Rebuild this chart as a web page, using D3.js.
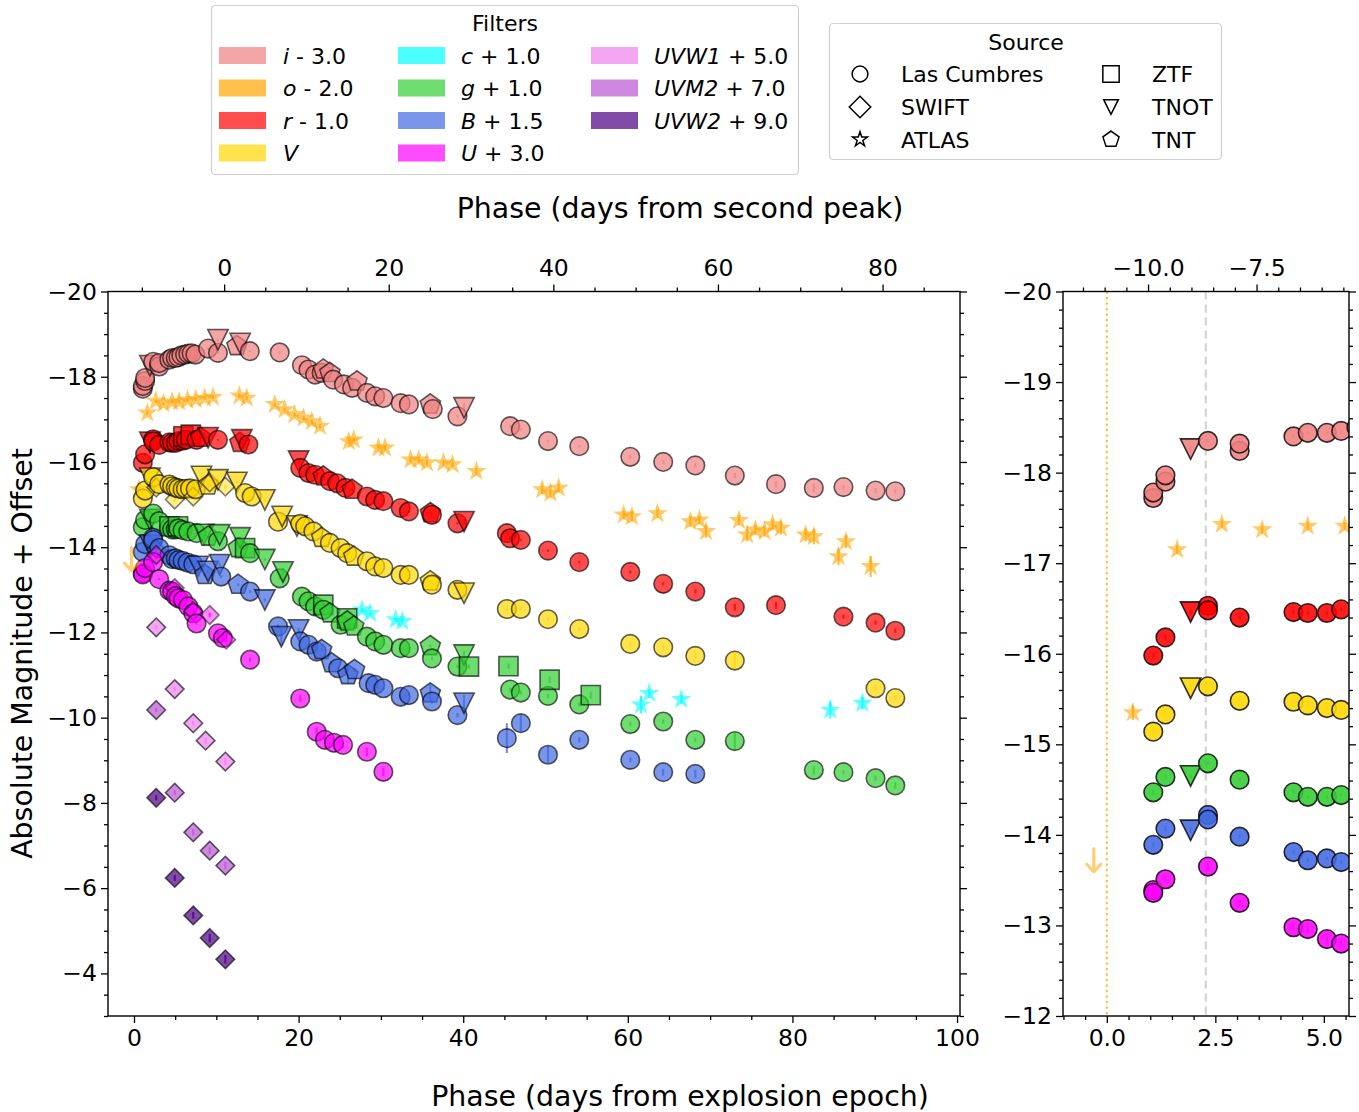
<!DOCTYPE html>
<html>
<head>
<meta charset="utf-8">
<script src="https://cdn.jsdelivr.net/npm/d3@7"></script>
<style>
  body { margin: 0; background: #fff; }
  svg { font-family: "DejaVu Sans", sans-serif; }
</style>
</head>
<body>
<svg id="chart" width="1359" height="1112"></svg>
<script>
// ---- filters, offsets, colours ----
const filterNames   = ["i", "o", "r", "V", "c", "g", "B", "U", "UVW1", "UVM2", "UVW2"];
const filterOffsets = [-3.0, -2.0, -1.0, 0, 1.0, 1.0, 1.5, 3.0, 5.0, 7.0, 9.0];
const filterColors  = ["lightcoral", "orange", "red", "gold", "cyan", "limegreen",
                       "royalblue", "magenta", "violet", "mediumorchid", "indigo"];

// ---- photometric sources ----
const sourceCodes = ["L", "S", "A", "Z", "T", "P"];
const sourceNames = ["Las Cumbres", "SWIFT", "ATLAS", "ZTF", "TNOT", "TNT"];

// phase of the second light-curve peak (days after explosion)
const secondPeakPhase = 10.95;
// epoch marked by the dashed line in the early-time panel
const firstPeakPhase = 2.28;

// ---- photometry: [phase (d from explosion), absolute mag, error, source] ----
const iRows = [
  [1.07,-14.72,.03,"L"],[1.07,-14.78,.03,"L"],[1.35,-14.90,.03,"L"],[1.35,-14.97,.03,"L"],
  [1.93,-15.26,.03,"T"],[2.33,-15.35,.02,"L"],[3.06,-15.24,.02,"L"],[3.06,-15.32,.02,"L"],
  [4.30,-15.40,.02,"L"],[4.63,-15.44,.02,"L"],[5.07,-15.44,.02,"L"],[5.40,-15.46,.02,"L"],
  [5.75,-15.50,.02,"L"],[6.20,-15.52,.02,"L"],[6.60,-15.54,.02,"L"],[7.00,-15.55,.02,"L"],
  [7.46,-15.52,.02,"L"],[9.00,-15.66,.02,"L"],[10.2,-15.56,.02,"L"],[10.2,-15.87,.03,"T"],
  [12.5,-15.72,.03,"P"],[12.9,-15.78,.03,"T"],[14.07,-15.60,.02,"L"],[17.7,-15.57,.03,"L"],
  [20.4,-15.27,.02,"L"],[21.2,-15.17,.02,"L"],[22.0,-15.05,.02,"L"],[22.8,-15.09,.02,"L"],
  [23.0,-15.17,.03,"P"],[23.8,-15.09,.03,"P"],[24.2,-14.93,.02,"L"],[25.5,-14.82,.02,"L"],
  [26.5,-14.74,.02,"L"],[27.1,-14.89,.03,"P"],[28.3,-14.62,.02,"L"],[29.3,-14.54,.02,"L"],
  [30.3,-14.50,.02,"L"],[32.4,-14.38,.02,"L"],[33.4,-14.35,.02,"L"],[36.0,-14.35,.03,"P"],
  [36.3,-14.24,.03,"L"],[39.3,-14.07,.03,"L"],[40.1,-14.27,.10,"T"],[45.7,-13.84,.03,"L"],
  [47.0,-13.76,.03,"L"],[50.3,-13.49,.03,"L"],[54.1,-13.37,.03,"L"],[60.3,-13.12,.04,"L"],
  [64.3,-13.00,.04,"L"],[68.2,-12.92,.05,"L"],[73.0,-12.68,.06,"L"],[78.0,-12.48,.08,"L"],
  [82.6,-12.39,.10,"L"],[86.2,-12.41,.05,"L"],[90.1,-12.33,.06,"L"],[92.5,-12.31,.05,"L"]
];
const oRows = [
  [0.60,-13.35,.08,"A"],[1.62,-15.15,.05,"A"],[2.65,-15.43,.04,"A"],[3.58,-15.37,.04,"A"],
  [4.63,-15.41,.04,"A"],[5.48,-15.41,.04,"A"],[6.5,-15.45,.04,"A"],[7.5,-15.47,.04,"A"],
  [8.6,-15.50,.04,"A"],[9.6,-15.52,.04,"A"],[12.8,-15.55,.05,"A"],[13.7,-15.50,.05,"A"],
  [17.1,-15.35,.05,"A"],[18.3,-15.23,.05,"A"],[19.5,-15.11,.05,"A"],[20.6,-15.03,.05,"A"],
  [21.6,-14.95,.05,"A"],[22.6,-14.84,.05,"A"],[26.1,-14.48,.06,"A"],[26.7,-14.52,.06,"A"],
  [29.7,-14.33,.06,"A"],[30.5,-14.33,.06,"A"],[33.6,-14.05,.06,"A"],[34.6,-14.05,.07,"A"],
  [35.6,-13.98,.07,"A"],[37.6,-13.98,.07,"A"],[38.7,-13.94,.07,"A"],[41.6,-13.78,.08,"A"],
  [49.6,-13.35,.10,"A"],[50.6,-13.27,.10,"A"],[51.6,-13.39,.10,"A"],[59.5,-12.76,.10,"A"],
  [60.5,-12.72,.12,"A"],[63.6,-12.79,.10,"A"],[67.6,-12.60,.12,"A"],[68.7,-12.64,.10,"A"],
  [69.5,-12.37,.15,"A"],[73.5,-12.63,.12,"A"],[74.5,-12.29,.15,"A"],[75.5,-12.41,.12,"A"],
  [76.6,-12.37,.12,"A"],[77.6,-12.53,.12,"A"],[78.6,-12.45,.15,"A"],[81.6,-12.29,.15,"A"],
  [82.6,-12.25,.18,"A"],[85.6,-11.78,.20,"A"],[86.5,-12.13,.15,"A"],[89.5,-11.55,.25,"A"]
];
// o-band non-detection before the first detection: [phase, limiting absolute mag]
const oLimits = [[-0.3, -11.72]];
const rRows = [
  [1.07,-14.98,.03,"L"],[1.35,-15.18,.03,"L"],[1.93,-15.46,.03,"T"],[2.33,-15.53,.02,"L"],
  [2.33,-15.48,.02,"L"],[3.06,-15.40,.02,"L"],[4.30,-15.46,.02,"L"],[4.63,-15.45,.02,"L"],
  [5.07,-15.45,.02,"L"],[5.40,-15.49,.02,"L"],[5.9,-15.50,.02,"L"],[6.0,-15.60,.03,"Z"],
  [6.3,-15.52,.02,"L"],[6.9,-15.64,.03,"Z"],[7.6,-15.52,.02,"L"],[8.1,-15.57,.03,"P"],
  [9.0,-15.57,.03,"T"],[10.2,-15.52,.02,"L"],[12.86,-15.45,.03,"P"],[13.1,-15.52,.03,"T"],
  [13.9,-15.41,.02,"L"],[20.0,-15.02,.03,"T"],[20.2,-14.86,.02,"L"],[21.2,-14.74,.02,"L"],
  [22.0,-14.70,.02,"L"],[23.0,-14.66,.03,"P"],[23.8,-14.55,.02,"L"],[24.7,-14.50,.02,"L"],
  [25.7,-14.39,.02,"L"],[26.5,-14.35,.03,"P"],[28.3,-14.19,.02,"L"],[29.3,-14.11,.02,"L"],
  [30.3,-14.08,.02,"L"],[32.4,-13.92,.02,"L"],[33.4,-13.84,.02,"L"],[36.0,-13.80,.03,"P"],
  [36.2,-13.76,.03,"L"],[39.3,-13.56,.03,"L"],[40.1,-13.60,.05,"T"],[45.3,-13.33,.03,"L"],
  [45.7,-13.21,.03,"L"],[47.0,-13.17,.03,"L"],[50.3,-12.92,.03,"L"],[54.1,-12.65,.03,"L"],
  [60.3,-12.42,.04,"L"],[64.3,-12.14,.04,"L"],[68.2,-11.96,.05,"L"],[73.0,-11.59,.08,"L"],
  [78.0,-11.64,.08,"L"],[86.2,-11.37,.05,"L"],[90.1,-11.23,.05,"L"],[92.5,-11.04,.05,"L"]
];
const vRows = [
  [1.07,-15.14,.03,"L"],[1.35,-15.33,.03,"L"],[1.93,-15.62,.03,"T"],[2.33,-15.64,.02,"L"],
  [2.7,-15.40,.05,"S"],[3.06,-15.48,.02,"L"],[4.30,-15.47,.02,"L"],[4.63,-15.43,.02,"L"],
  [4.95,-15.12,.05,"S"],[5.07,-15.40,.02,"L"],[5.40,-15.38,.02,"L"],[5.9,-15.36,.02,"L"],
  [6.3,-15.37,.02,"L"],[6.8,-15.38,.02,"L"],[7.2,-15.19,.05,"S"],[7.5,-15.36,.02,"L"],
  [8.2,-15.66,.03,"T"],[9.0,-15.45,.03,"P"],[9.2,-15.52,.05,"S"],[10.2,-15.58,.03,"T"],
  [11.1,-15.42,.05,"S"],[12.5,-15.52,.03,"T"],[13.5,-15.27,.02,"L"],[14.3,-15.19,.02,"L"],
  [15.9,-15.11,.03,"T"],[17.5,-14.60,.03,"L"],[18.0,-14.72,.03,"T"],[19.8,-14.50,.03,"T"],
  [20.2,-14.55,.02,"L"],[20.8,-14.49,.02,"L"],[21.8,-14.37,.02,"L"],[22.8,-14.22,.03,"P"],
  [23.8,-14.10,.02,"L"],[25.1,-13.98,.02,"L"],[25.9,-13.86,.02,"L"],[26.7,-13.78,.03,"P"],
  [28.3,-13.67,.02,"L"],[29.3,-13.55,.02,"L"],[30.3,-13.51,.02,"L"],[32.4,-13.35,.02,"L"],
  [33.4,-13.35,.02,"L"],[36.0,-13.20,.03,"P"],[36.2,-13.12,.03,"L"],[39.3,-13.00,.03,"L"],
  [40.1,-12.92,.06,"T"],[45.3,-12.55,.05,"L"],[47.0,-12.55,.05,"L"],[50.3,-12.31,.05,"L"],
  [54.1,-12.08,.04,"L"],[60.3,-11.73,.05,"L"],[64.3,-11.65,.05,"L"],[68.2,-11.45,.05,"L"],
  [73.0,-11.34,.20,"L"],[90.1,-10.69,.06,"L"],[92.5,-10.46,.06,"L"]
];
const cRows = [
  [27.7,-13.53,.05,"A"],[28.7,-13.45,.05,"A"],[31.8,-13.30,.05,"A"],[32.6,-13.26,.05,"A"],
  [61.6,-11.30,.20,"A"],[62.6,-11.57,.10,"A"],[66.5,-11.43,.10,"A"],[84.6,-11.18,.20,"A"],
  [88.5,-11.34,.15,"A"]
];
const gRows = [
  [1.07,-15.47,.03,"L"],[1.35,-15.64,.03,"L"],[1.93,-15.65,.03,"T"],[2.33,-15.79,.02,"L"],
  [3.06,-15.61,.02,"L"],[4.30,-15.47,.02,"L"],[4.30,-15.49,.03,"Z"],[4.63,-15.42,.02,"L"],
  [5.07,-15.42,.02,"L"],[5.35,-15.49,.03,"Z"],[5.40,-15.44,.02,"L"],[5.9,-15.40,.02,"L"],
  [6.6,-15.37,.02,"L"],[7.6,-15.33,.02,"L"],[8.5,-15.30,.03,"T"],[9.0,-15.25,.03,"P"],
  [10.2,-15.14,.02,"L"],[10.4,-15.29,.08,"T"],[12.65,-14.98,.03,"P"],[12.9,-15.22,.03,"T"],
  [13.5,-14.98,.03,"Z"],[14.1,-14.86,.02,"L"],[15.9,-14.71,.03,"T"],[17.7,-14.27,.03,"L"],
  [18.1,-14.42,.10,"T"],[20.4,-13.84,.02,"L"],[21.2,-13.73,.02,"L"],[22.0,-13.61,.02,"L"],
  [23.0,-13.65,.03,"Z"],[23.0,-13.53,.02,"L"],[23.8,-13.45,.03,"P"],[25.1,-13.18,.02,"L"],
  [25.9,-13.33,.03,"Z"],[25.9,-13.26,.03,"P"],[26.7,-13.14,.03,"P"],[28.3,-12.90,.02,"L"],
  [29.3,-12.79,.02,"L"],[30.3,-12.71,.02,"L"],[32.4,-12.63,.02,"L"],[33.4,-12.63,.02,"L"],
  [36.0,-12.68,.03,"P"],[36.2,-12.39,.04,"L"],[39.3,-12.20,.04,"L"],[40.1,-12.47,.10,"T"],
  [40.7,-12.20,.05,"Z"],[45.5,-12.21,.06,"Z"],[45.7,-11.66,.05,"L"],[47.0,-11.59,.05,"L"],
  [50.3,-11.51,.05,"L"],[50.5,-11.89,.08,"Z"],[54.1,-11.31,.05,"L"],[55.5,-11.53,.08,"Z"],
  [60.3,-10.85,.05,"L"],[64.3,-10.91,.05,"L"],[68.2,-10.48,.05,"L"],[73.0,-10.45,.20,"L"],
  [82.6,-9.77,.10,"L"],[86.2,-9.72,.05,"L"],[90.1,-9.58,.06,"L"],[92.5,-9.41,.08,"L"]
];
const bRows = [
  [1.07,-15.39,.03,"L"],[1.35,-15.57,.03,"L"],[1.93,-15.55,.03,"T"],[2.33,-15.72,.02,"L"],
  [2.33,-15.67,.02,"L"],[2.7,-15.45,.05,"S"],[3.06,-15.48,.02,"L"],[4.30,-15.31,.02,"L"],
  [4.63,-15.22,.02,"L"],[5.07,-15.24,.02,"L"],[5.40,-15.20,.02,"L"],[5.9,-15.18,.02,"L"],
  [6.5,-15.14,.02,"L"],[7.2,-15.10,.02,"L"],[7.8,-15.05,.03,"T"],[8.6,-14.85,.03,"P"],
  [9.0,-14.93,.03,"T"],[10.4,-15.09,.04,"T"],[10.6,-14.81,.03,"L"],[12.65,-14.62,.03,"P"],
  [14.1,-14.46,.03,"L"],[15.9,-14.26,.04,"T"],[17.5,-13.64,.05,"L"],[17.9,-13.40,.20,"T"],
  [20.0,-13.56,.05,"T"],[20.2,-13.29,.03,"L"],[21.2,-13.21,.03,"L"],[22.2,-13.05,.03,"L"],
  [22.8,-13.09,.04,"P"],[24.0,-12.78,.04,"P"],[24.8,-12.66,.03,"L"],[26.0,-12.50,.20,"P"],
  [26.8,-12.62,.05,"P"],[28.5,-12.31,.03,"L"],[29.3,-12.27,.03,"L"],[30.3,-12.19,.03,"L"],
  [32.4,-11.99,.03,"L"],[33.4,-12.03,.03,"L"],[36.0,-12.07,.20,"P"],[36.2,-11.88,.05,"L"],
  [39.3,-11.56,.05,"L"],[40.1,-11.84,.20,"T"],[45.3,-11.02,.35,"L"],[47.0,-11.37,.20,"L"],
  [50.3,-10.63,.20,"L"],[54.1,-10.98,.06,"L"],[60.3,-10.51,.06,"L"],[64.3,-10.22,.08,"L"],
  [68.2,-10.18,.10,"L"]
];
const uRows = [
  [1.07,-16.39,.03,"L"],[1.07,-16.36,.03,"L"],[1.35,-16.51,.03,"L"],[2.33,-16.65,.03,"L"],
  [2.7,-16.82,.05,"S"],[3.06,-16.25,.03,"L"],[4.30,-15.98,.03,"L"],[4.63,-15.96,.03,"L"],
  [4.95,-16.04,.05,"S"],[5.07,-15.85,.03,"L"],[5.40,-15.80,.03,"L"],[5.96,-15.76,.03,"L"],
  [6.6,-15.61,.03,"L"],[7.2,-15.45,.03,"L"],[7.2,-15.50,.05,"S"],[7.6,-15.21,.03,"L"],
  [9.2,-15.41,.05,"S"],[10.2,-14.98,.04,"L"],[10.8,-14.87,.04,"L"],[11.2,-14.83,.05,"S"],
  [14.1,-14.36,.05,"L"],[20.2,-13.45,.08,"L"],[22.2,-12.67,.10,"L"],[23.2,-12.48,.10,"L"],
  [24.3,-12.41,.08,"L"],[25.4,-12.36,.08,"L"],[28.3,-12.20,.10,"L"],[30.3,-11.73,.10,"L"]
];
const uvw1Rows = [
  [2.7,-17.12,.05,"S"],[4.95,-15.67,.05,"S"],[7.2,-14.87,.06,"S"],[8.7,-14.46,.07,"S"],[11.1,-13.97,.08,"S"]
];
const uvm2Rows = [
  [2.7,-17.18,.05,"S"],[4.95,-15.24,.06,"S"],[7.2,-14.31,.07,"S"],[9.2,-13.88,.08,"S"],[11.1,-13.53,.09,"S"]
];
const uvw2Rows = [
  [2.7,-17.12,.06,"S"],[4.95,-15.24,.07,"S"],[7.2,-14.36,.08,"S"],[9.2,-13.83,.10,"S"],[11.1,-13.33,.10,"S"]
];
const filterRows = [iRows, oRows, rRows, vRows, cRows, gRows, bRows, uRows, uvw1Rows, uvm2Rows, uvw2Rows];

// ---- marker shapes (pixel units, centred on the data point) ----
function markerPath(code, k = 1) {
  const p = d3.path();
  if (code === "L") {
    const r = 9.3 * k; p.moveTo(r, 0); p.arc(0, 0, r, 0, 2 * Math.PI);
  } else if (code === "S") {
    const h = 9.3 * k; p.moveTo(0, -h); p.lineTo(h, 0); p.lineTo(0, h); p.lineTo(-h, 0);
  } else if (code === "Z") {
    const h = 9.6 * k; p.rect(-h, -h, 2 * h, 2 * h);
  } else if (code === "T") {
    const h = 10.2 * k; p.moveTo(-h, -h); p.lineTo(h, -h); p.lineTo(0, h);
  } else if (code === "P") {
    const R = 10.6 * k;
    for (let j = 0; j < 5; j++) {
      const a = -Math.PI / 2 + j * 2 * Math.PI / 5;
      j ? p.lineTo(R * Math.cos(a), R * Math.sin(a)) : p.moveTo(R * Math.cos(a), R * Math.sin(a));
    }
  } else if (code === "A") {
    const R = 10.8 * k, r = R * 0.382;
    for (let j = 0; j < 10; j++) {
      const a = -Math.PI / 2 + j * Math.PI / 5, rr = j % 2 ? r : R;
      j ? p.lineTo(rr * Math.cos(a), rr * Math.sin(a)) : p.moveTo(rr * Math.cos(a), rr * Math.sin(a));
    }
  }
  p.closePath();
  return p.toString();
}

const svg = d3.select("#chart");
const TICK_FONT = 23.5;
const LABEL_FONT = 28.4;

// ---- panel layout: full light curve and early-time zoom ----
const panels = [
  { id: "main", x0: 108, x1: 960, y0: 291.5, y1: 1016, xd: [-3.16, 100.36], yd: [-20, -3],
    xMajor: [0, 20, 40, 60, 80, 100], xMinor: 5, yMajor: d3.range(-20, -3, 2), yMinor: 0.5,
    topMajor: [0, 20, 40, 60, 80], topMinor: 5, xFmt: d3.format("d"), topFmt: d3.format("d"),
    fillOpacity: 0.7, strokeOpacity: 0.62, sources: ["L", "S", "A", "Z", "T", "P"] },
  { id: "early", x0: 1063, x1: 1349, y0: 291.5, y1: 1016, xd: [-1.01, 5.58], yd: [-20, -12],
    xMajor: [0, 2.5, 5], xMinor: 0.5, yMajor: d3.range(-20, -11, 1), yMinor: 0.2,
    topMajor: [-10, -7.5], topMinor: 0.5, xFmt: d3.format(".1f"), topFmt: d3.format(".1f"),
    fillOpacity: 0.88, strokeOpacity: 0.8, marks: true, sources: ["L", "A", "T", "P"] }
];

function minorValues(domain, step, majors) {
  const lo = Math.min(...domain), hi = Math.max(...domain), out = [];
  for (let k = Math.ceil(lo / step - 1e-9); k <= Math.floor(hi / step + 1e-9); k++) {
    const v = +(k * step).toFixed(6);
    if (!majors.some(m => Math.abs(m - v) < 1e-6)) out.push(v);
  }
  return out;
}

function styleAxis(g, fontSize) {
  g.select(".domain").remove();
  g.selectAll(".tick line").attr("stroke", "#000").attr("stroke-width", 1.3);
  g.selectAll(".tick text").attr("fill", "#000").attr("font-size", fontSize)
    .attr("font-family", "DejaVu Sans, sans-serif");
}

panels.forEach(cfg => {
  const x = d3.scaleLinear().domain(cfg.xd).range([cfg.x0, cfg.x1]);
  const y = d3.scaleLinear().domain(cfg.yd).range([cfg.y0, cfg.y1]);
  const xTop = d3.scaleLinear().domain(cfg.xd.map(v => v - secondPeakPhase)).range([cfg.x0, cfg.x1]);

  svg.append("clipPath").attr("id", "clip-" + cfg.id)
    .append("rect").attr("x", cfg.x0).attr("y", cfg.y0)
    .attr("width", cfg.x1 - cfg.x0).attr("height", cfg.y1 - cfg.y0);
  const plot = svg.append("g").attr("clip-path", `url(#clip-${cfg.id})`);

  if (cfg.marks) {
    // explosion epoch and first-peak epoch
    plot.append("line").attr("x1", x(0)).attr("x2", x(0)).attr("y1", cfg.y0).attr("y2", cfg.y1)
      .attr("stroke", "orange").attr("stroke-opacity", 0.75).attr("stroke-width", 2.2)
      .attr("stroke-dasharray", "2.2,3.3");
    plot.append("line").attr("x1", x(firstPeakPhase)).attr("x2", x(firstPeakPhase))
      .attr("y1", cfg.y0).attr("y2", cfg.y1)
      .attr("stroke", "#d3d3d3").attr("stroke-width", 2.2).attr("stroke-dasharray", "8,5");
  }

  filterNames.forEach((f, fi) => {
    const off = filterOffsets[fi], col = filterColors[fi];
    const rows = filterRows[fi].filter(d => cfg.sources.includes(d[3]));
    const isUV = f.startsWith("UV");
    const g = plot.append("g");
    // error bars
    g.selectAll("line.err").data(rows).join("line").attr("class", "err")
      .attr("x1", d => x(d[0])).attr("x2", d => x(d[0]))
      .attr("y1", d => y(d[1] + off - d[2])).attr("y2", d => y(d[1] + off + d[2]))
      .attr("stroke", col).attr("stroke-opacity", 0.75).attr("stroke-width", 2.2);
    // markers
    g.selectAll("path.pt").data(rows).join("path").attr("class", "pt")
      .attr("transform", d => `translate(${x(d[0])},${y(d[1] + off)})`)
      .attr("d", d => markerPath(d[3]))
      .attr("fill", col)
      .attr("fill-opacity", d => d[3] === "A" ? 0.6 : (d[3] === "S" && !isUV ? 0.45 : cfg.fillOpacity))
      .attr("stroke", d => d[3] === "A" ? "none" : "#000")
      .attr("stroke-opacity", d => d[3] === "S" && !isUV ? 0.5 : cfg.strokeOpacity)
      .attr("stroke-width", 1.6);
  });

  // o-band upper limit (downward arrow)
  const oi = filterNames.indexOf("o");
  plot.selectAll("path.lim").data(oLimits).join("path").attr("class", "lim")
    .attr("transform", d => `translate(${x(d[0])},${y(d[1] + filterOffsets[oi])})`)
    .attr("d", "M0,-11.5L0,11.5M-7,4L0,11.5L7,4")
    .attr("fill", "none").attr("stroke", filterColors[oi]).attr("stroke-opacity", 0.55)
    .attr("stroke-width", 3.2).attr("stroke-linecap", "round").attr("stroke-linejoin", "round");

  // axes: major + minor ticks on all four sides
  const yMinorVals = minorValues(cfg.yd, cfg.yMinor, cfg.yMajor);
  const xMinorVals = minorValues(cfg.xd, cfg.xMinor, cfg.xMajor);
  const topMinorVals = minorValues(xTop.domain(), cfg.topMinor, cfg.topMajor);

  const addAxis = (axis, tx, ty, font) => {
    const g = svg.append("g").attr("transform", `translate(${tx},${ty})`).call(axis);
    styleAxis(g, font);
    return g;
  };
  addAxis(d3.axisBottom(x).tickValues(cfg.xMajor).tickFormat(cfg.xFmt).tickSize(7).tickPadding(6), 0, cfg.y1, TICK_FONT);
  addAxis(d3.axisBottom(x).tickValues(xMinorVals).tickFormat("").tickSize(4), 0, cfg.y1, TICK_FONT);
  addAxis(d3.axisTop(xTop).tickValues(cfg.topMajor).tickFormat(cfg.topFmt).tickSize(7).tickPadding(9), 0, cfg.y0, TICK_FONT);
  addAxis(d3.axisTop(xTop).tickValues(topMinorVals).tickFormat("").tickSize(4), 0, cfg.y0, TICK_FONT);
  addAxis(d3.axisLeft(y).tickValues(cfg.yMajor).tickFormat(d3.format("d")).tickSize(7).tickPadding(4), cfg.x0, 0, TICK_FONT);
  addAxis(d3.axisLeft(y).tickValues(yMinorVals).tickFormat("").tickSize(4), cfg.x0, 0, TICK_FONT);
  addAxis(d3.axisRight(y).tickValues(cfg.yMajor).tickFormat("").tickSize(7), cfg.x1, 0, TICK_FONT);
  addAxis(d3.axisRight(y).tickValues(yMinorVals).tickFormat("").tickSize(4), cfg.x1, 0, TICK_FONT);

  svg.append("rect").attr("x", cfg.x0).attr("y", cfg.y0)
    .attr("width", cfg.x1 - cfg.x0).attr("height", cfg.y1 - cfg.y0)
    .attr("fill", "none").attr("stroke", "#000").attr("stroke-width", 1.4);
});

// ---- axis titles ----
svg.append("text").attr("x", 680).attr("y", 1106).attr("text-anchor", "middle")
  .attr("font-size", LABEL_FONT).text("Phase (days from explosion epoch)");
svg.append("text").attr("x", 680).attr("y", 218).attr("text-anchor", "middle")
  .attr("font-size", LABEL_FONT).text("Phase (days from second peak)");
svg.append("text").attr("transform", "translate(32,653.5) rotate(-90)").attr("text-anchor", "middle")
  .attr("font-size", LABEL_FONT).text("Absolute Magnitude + Offset");

// ---- filter legend ----
const LEG_FONT = 22;
const legF = svg.append("g");
legF.append("rect").attr("x", 211.5).attr("y", 5.5).attr("width", 587).attr("height", 169)
  .attr("rx", 4).attr("fill", "#fff").attr("stroke", "#cfcfcf").attr("stroke-width", 1.2);
legF.append("text").attr("x", 505).attr("y", 31).attr("text-anchor", "middle")
  .attr("font-size", LEG_FONT).text("Filters");
const legCols = [[0, 1, 2, 3], [4, 5, 6, 7], [8, 9, 10]];
const patchX = [219, 398, 591], labelX = [283, 461, 654], rowY = [55.5, 88, 120.5, 153];
legCols.forEach((col, ci) => col.forEach((fi, ri) => {
  legF.append("rect").attr("x", patchX[ci]).attr("y", rowY[ri] - 8.5).attr("width", 47).attr("height", 17)
    .attr("fill", filterColors[fi]).attr("fill-opacity", 0.7);
  const t = legF.append("text").attr("x", labelX[ci]).attr("y", rowY[ri] + 8).attr("font-size", LEG_FONT);
  t.append("tspan").attr("font-style", "italic").text(filterNames[fi]);
  const off = filterOffsets[fi];
  if (off !== 0) t.append("tspan").text((off < 0 ? " - " : " + ") + Math.abs(off).toFixed(1));
}));

// ---- source legend ----
const legS = svg.append("g");
legS.append("rect").attr("x", 829.5).attr("y", 23.5).attr("width", 392).attr("height", 136)
  .attr("rx", 4).attr("fill", "#fff").attr("stroke", "#cfcfcf").attr("stroke-width", 1.2);
legS.append("text").attr("x", 1026).attr("y", 50).attr("text-anchor", "middle")
  .attr("font-size", LEG_FONT).text("Source");
const legendScale = { L: 0.85, S: 1.15, A: 0.72, Z: 0.85, T: 0.72, P: 0.8 };
const srcX = [860, 1111], srcLabelX = [901, 1152], srcY = [74, 107, 139.5];
sourceCodes.forEach((code, k) => {
  const ci = Math.floor(k / 3), ri = k % 3;
  legS.append("path").attr("transform", `translate(${srcX[ci]},${srcY[ri]})`)
    .attr("d", markerPath(code, legendScale[code]))
    .attr("fill", "none").attr("stroke", "#000").attr("stroke-width", 1.5);
  legS.append("text").attr("x", srcLabelX[ci]).attr("y", srcY[ri] + 8)
    .attr("font-size", LEG_FONT).text(sourceNames[k]);
});
</script>
</body>
</html>
